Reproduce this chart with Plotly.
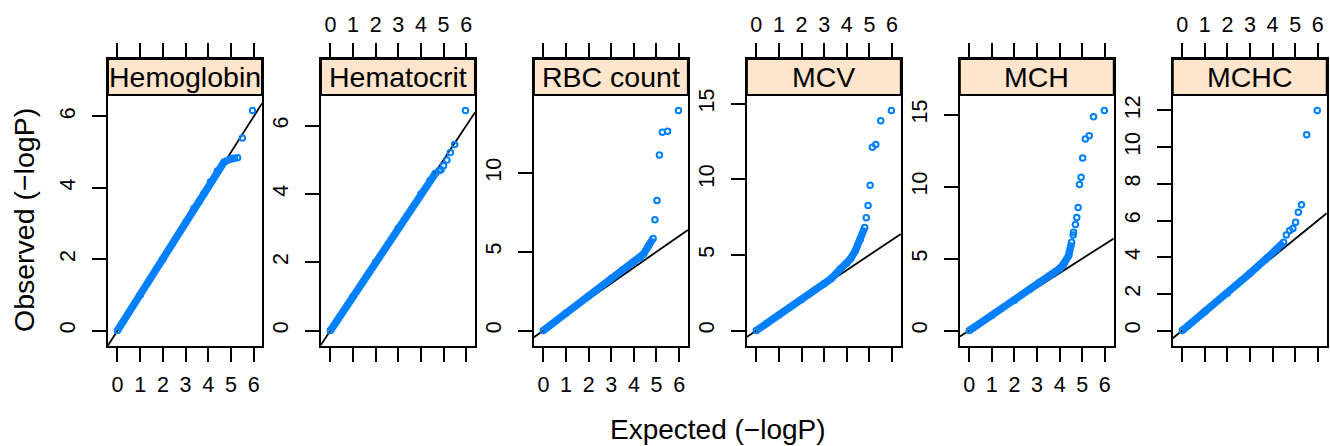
import plotly.graph_objects as go

W, H = 1330, 446

traits = ["Hemoglobin", "Hematocrit", "RBC count", "MCV", "MCH", "MCHC"]

# dense part of each QQ curve (expected, observed)
band_exp = {
    "Hemoglobin": [0, 1, 2, 3, 3.36, 3.6, 3.81, 4.1, 4.4, 4.69, 4.98, 5.15],
    "Hematocrit": [0, 1, 2, 3, 4, 4.4, 4.64],
    "RBC count": [0, 1, 2, 3, 3.5, 4.0, 4.28, 4.43, 4.65, 4.85],
    "MCV": [0, 1, 2, 3, 3.3, 3.7, 4.0, 4.16, 4.38, 4.6, 4.79],
    "MCH": [0, 1, 2, 2.7, 3.1, 3.59, 4.0, 4.18, 4.4, 4.53],
    "MCHC": [0, 1, 2, 3, 3.75, 4.2, 4.49],
}
band_obs = {
    "Hemoglobin": [0, 1.0, 2.0, 3.02, 3.42, 3.62, 3.84, 4.17, 4.47, 4.72, 4.81, 4.83],
    "Hematocrit": [0, 1, 2, 3, 4.0, 4.4, 4.61],
    "RBC count": [0, 1.1, 2.2, 3.3, 3.85, 4.35, 4.6, 4.86, 5.39, 5.85],
    "MCV": [0, 1.03, 2.06, 3.1, 3.42, 4.05, 4.45, 4.74, 5.29, 6.06, 6.81],
    "MCH": [0, 1.05, 2.1, 2.89, 3.35, 3.82, 4.3, 4.63, 5.21, 6.13],
    "MCHC": [0, 1.02, 2.03, 3.12, 3.95, 4.45, 4.81],
}
# sparse tail points
tail_exp = {
    "Hemoglobin": [5.29, 5.5, 5.95],
    "Hematocrit": [4.8, 4.89, 5.0, 5.15, 5.3, 5.49, 5.97],
    "RBC count": [4.93, 5.02, 5.13, 5.26, 5.49, 5.97],
    "MCV": [4.86, 4.94, 5.03, 5.13, 5.28, 5.5, 5.97],
    "MCH": [4.6, 4.62, 4.7, 4.76, 4.82, 4.88, 4.95, 5.02, 5.14, 5.31, 5.5, 5.98],
    "MCHC": [4.61, 4.76, 4.9, 5.02, 5.14, 5.28, 5.51, 5.98],
}
tail_obs = {
    "Hemoglobin": [4.84, 5.4, 6.17],
    "Hematocrit": [4.68, 4.71, 4.83, 5.0, 5.22, 5.45, 6.45],
    "RBC count": [7.04, 8.26, 11.14, 12.58, 12.64, 13.97],
    "MCV": [7.47, 8.28, 9.61, 12.12, 12.31, 13.88, 14.56],
    "MCH": [6.64, 6.83, 7.38, 7.85, 8.56, 10.16, 10.65, 11.99, 13.31, 13.54, 14.86, 15.3],
    "MCHC": [5.21, 5.45, 5.57, 5.9, 6.45, 6.86, 10.68, 12.0],
}
x_ticks = [0, 1, 2, 3, 4, 5, 6]
y_ticks = {
    "Hemoglobin": [0, 2, 4, 6],
    "Hematocrit": [0, 2, 4, 6],
    "RBC count": [0, 5, 10],
    "MCV": [0, 5, 10, 15],
    "MCH": [0, 5, 10, 15],
    "MCHC": [0, 2, 4, 6, 8, 10, 12],
}

BLUE = "#0080ff"
FONT = "Liberation Sans, Helvetica, Arial, sans-serif"
LW = 2

# pixel layout
left0, step, pw = 108.0, 212.95, 154.0
strip_top, plot_top, plot_bot = 59.0, 95.0, 346.0
strip_frac = (plot_bot - plot_top) / (plot_bot - strip_top)
ydom = [(H - plot_bot) / H, (H - strip_top) / H]

fig = go.Figure()
layout = dict(
    width=W, height=H, margin=dict(l=0, r=0, t=0, b=0),
    paper_bgcolor="white", plot_bgcolor="white", showlegend=False,
    font=dict(family=FONT, color="black"),
)
shapes, annotations = [], []
marker_style = dict(symbol="circle-open", size=5.5, color=BLUE,
                    line=dict(width=2, color=BLUE))

for i, t in enumerate(traits):
    n = i + 1
    xs = "" if n == 1 else str(n)
    all_x = band_exp[t] + tail_exp[t]
    all_y = band_obs[t] + tail_obs[t]
    xmin, xmax = min(all_x), max(all_x)
    ymin, ymax = min(all_y), max(all_y)
    xr = [xmin - 0.07 * (xmax - xmin), xmax + 0.07 * (xmax - xmin)]
    yr0, yr1 = ymin - 0.07 * (ymax - ymin), ymax + 0.07 * (ymax - ymin)
    ytop = yr1 + (yr1 - yr0) * (1 - strip_frac) / strip_frac
    yr = [yr0, ytop]

    # reference line y = x
    fig.add_trace(go.Scatter(x=xr, y=xr, mode="lines",
                             line=dict(color="black", width=1.8),
                             xaxis="x" + xs, yaxis="y" + xs, hoverinfo="skip"))
    # dense band
    fig.add_trace(go.Scatter(x=band_exp[t], y=band_obs[t], mode="lines+markers",
                             line=dict(color=BLUE, width=7.5),
                             marker=marker_style,
                             xaxis="x" + xs, yaxis="y" + xs))
    # tail points
    fig.add_trace(go.Scatter(x=tail_exp[t], y=tail_obs[t], mode="markers",
                             marker=marker_style,
                             xaxis="x" + xs, yaxis="y" + xs))

    l = left0 + step * i
    xdom = [l / W, (l + pw) / W]
    top_side = (n % 2 == 0)
    layout["xaxis" + xs] = dict(
        domain=xdom, range=xr, anchor="y" + xs,
        side="top" if top_side else "bottom",
        tickvals=x_ticks, ticktext=[str(v) for v in x_ticks],
        ticks="outside", ticklen=14, tickwidth=LW, tickcolor="black",
        showline=True, linecolor="black", linewidth=LW, mirror="ticks",
        showgrid=False, zeroline=False,
        tickfont=dict(size=21.5, family=FONT, color="black"),
        ticklabelstandoff=2 if top_side else 4,
    )
    layout["yaxis" + xs] = dict(
        domain=ydom, range=yr, anchor="x" + xs,
        tickvals=y_ticks[t], ticktext=[str(v) for v in y_ticks[t]],
        ticks="outside", ticklen=14, tickwidth=LW, tickcolor="black",
        showline=True, linecolor="black", linewidth=LW, mirror=True,
        showgrid=False, zeroline=False, tickangle=-90,
        tickfont=dict(size=21.5, family=FONT, color="black"),
        ticklabelstandoff=8,
    )
    shapes.append(dict(type="rect", xref="x" + xs + " domain", yref="y" + xs + " domain",
                       x0=0, x1=1, y0=strip_frac, y1=1, fillcolor="#ffe5cc",
                       line=dict(color="black", width=LW), layer="above"))
    annotations.append(dict(text=t, xref="x" + xs + " domain", yref="y" + xs + " domain",
                            x=0.5, y=(1 + strip_frac) / 2, xanchor="center", yanchor="middle",
                            showarrow=False, font=dict(size=28.5, family=FONT, color="black")))

annotations.append(dict(text="Expected (−logP)", xref="paper", yref="paper",
                        x=717.5 / W, y=(H - 429) / H, xanchor="center", yanchor="middle",
                        showarrow=False, font=dict(size=28, family=FONT, color="black")))
annotations.append(dict(text="Observed (−logP)", xref="paper", yref="paper",
                        x=24 / W, y=(H - 220) / H, xanchor="center", yanchor="middle",
                        textangle=-90, showarrow=False,
                        font=dict(size=28.5, family=FONT, color="black")))

layout["shapes"] = shapes
layout["annotations"] = annotations
fig.update_layout(**layout)
fig.write_html("out.html", config={"displayModeBar": False},
               post_script="document.body.style.margin='0';document.body.style.padding='0';")
